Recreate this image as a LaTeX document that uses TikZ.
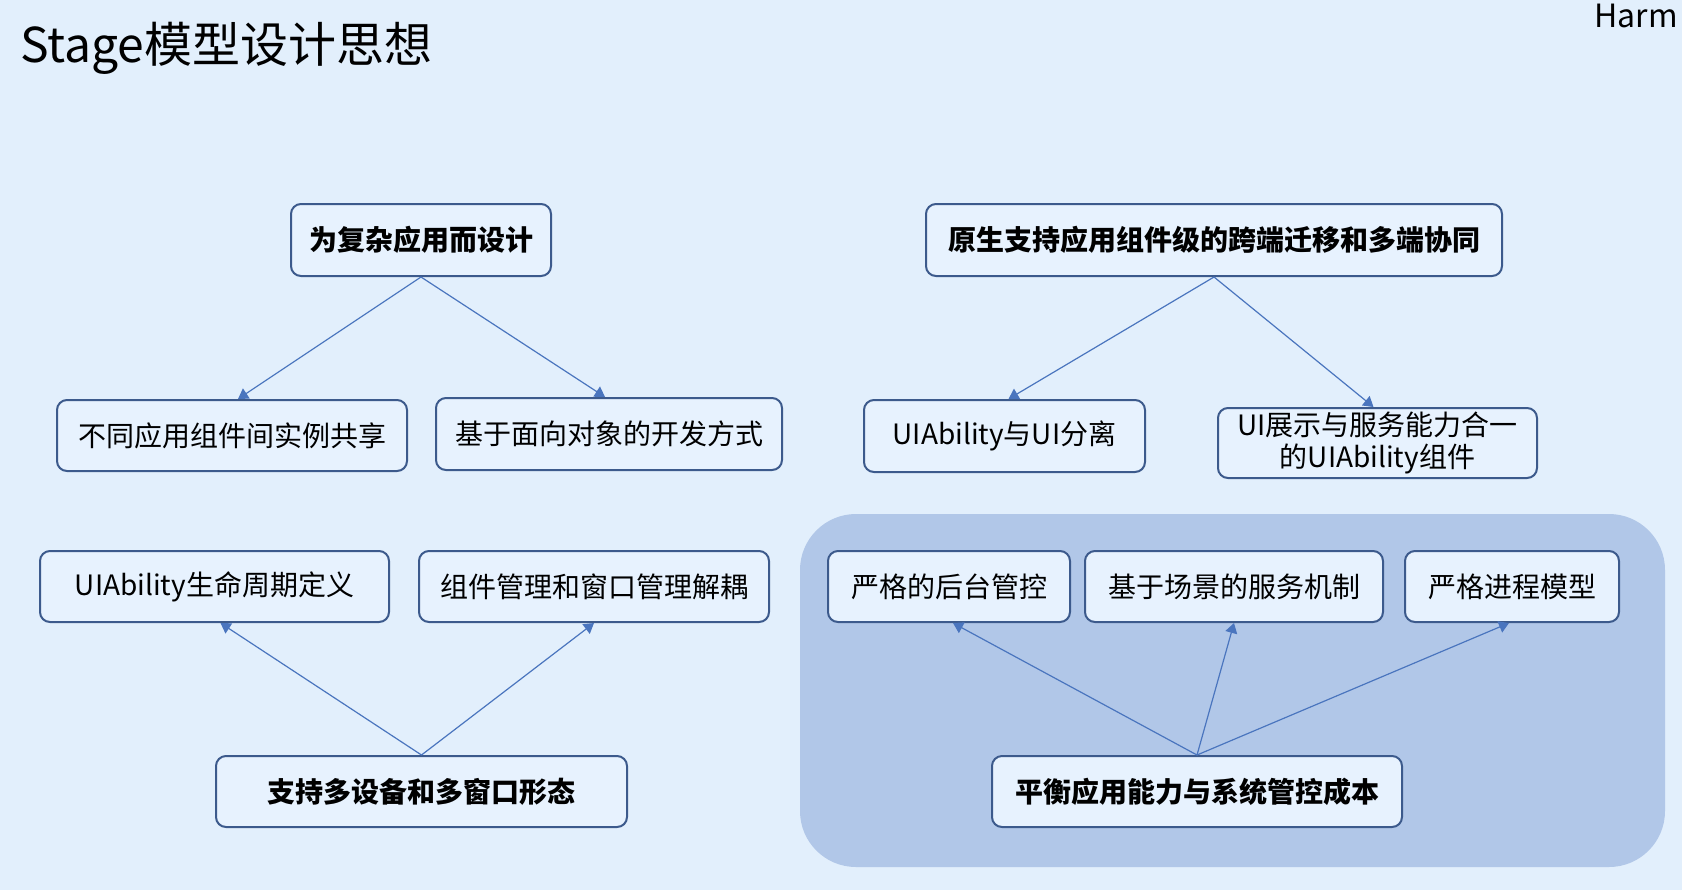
\documentclass[tikz,border=0pt]{standalone}
\usepackage{fontspec}
\setmainfont{Noto Sans CJK SC}
\usepackage{xcolor}
\definecolor{colorBack}{HTML}{E2EFFC}
\definecolor{colorBox}{HTML}{E7F2FE}
\definecolor{colorBorder}{HTML}{3C5A8C}
\definecolor{colorGroup}{HTML}{B1C7E8}
\definecolor{colorLink}{HTML}{4A75BE}
\usepackage{tikz}
\usetikzlibrary{arrows.meta, positioning}
\tikzset{
  box/.style={draw=colorBorder, fill=colorBox, line width=1pt, rounded corners=5pt, inner sep=0pt, align=center, font=\fontsize{14}{16}\selectfont},
  smallbox/.style={box, minimum height=35.5pt},
  keybox/.style={box, font=\fontsize{14}{16}\selectfont\bfseries},
  link/.style={-{Triangle[length=5pt,width=6pt]}, draw=colorLink, line width=0.6pt}
}

\begin{document}
\begin{tikzpicture}[x=0.5pt, y=-0.5pt]
\fill[colorBack] (0,0) rectangle (1682,890);
\useasboundingbox (0,0) rectangle (1682,890);
\fill[colorGroup, rounded corners=28pt] (800,514) rectangle (1665,867);
\node[anchor=base west, font=\fontsize{24}{24}\selectfont] (title) at (13,62) {Stage模型设计思想};
\node[anchor=base east, font=\fontsize{16}{16}\selectfont] (brand) at (1685,27) {Harm};
\node[keybox, minimum width=130pt, minimum height=36pt] (complex) at (421,240) {为复杂应用而设计};
\node[keybox, minimum width=288pt, minimum height=36pt] (migrate) at (1214,240) {原生支持应用组件级的跨端迁移和多端协同};
\node[box, minimum width=175pt, minimum height=35.5pt] (share) at (232,435.5) {不同应用组件间实例共享};
\node[box, minimum width=173pt, minimum height=36pt] (oop) at (609,434) {基于面向对象的开发方式};
\node[box, minimum width=140.5pt, minimum height=36pt] (split) at (1004.5,436) {UIAbility与UI分离};
\node[box, minimum width=159.5pt, minimum height=35pt] (merge) at (1377.5,443) {UI展示与服务能力合一\\的UIAbility组件};
\node[box, minimum width=174.5pt, minimum height=35.5pt] (life) at (214.5,586.5) {UIAbility生命周期定义};
\node[box, minimum width=175pt, minimum height=35.5pt] (decouple) at (594,586.5) {组件管理和窗口管理解耦};
\node[keybox, minimum width=205.5pt, minimum height=35.5pt] (devices) at (421.5,791.5) {支持多设备和多窗口形态};
\node[smallbox, minimum width=121pt] (backstage) at (949,586.5) {严格的后台管控};
\node[smallbox, minimum width=149pt] (scene) at (1234,586.5) {基于场景的服务机制};
\node[smallbox, minimum width=107pt] (process) at (1512,586.5) {严格进程模型};
\node[keybox, minimum width=205pt, minimum height=35.5pt] (balance) at (1197,791.5) {平衡应用能力与系统管控成本};
\draw[link] (complex.south) -- ([xshift=3pt]share.north);
\draw[link] (complex.south) -- ([xshift=-2pt]oop.north);
\draw[link] (migrate.south) -- ([xshift=2pt]split.north);
\draw[link] (migrate.south) -- ([xshift=-2pt]merge.north);
\draw[link] (devices.north) -- ([xshift=3pt]life.south);
\draw[link] (devices.north) -- (decouple.south);
\draw[link] (balance.north) -- ([xshift=2pt]backstage.south);
\draw[link] (balance.north) -- (scene.south);
\draw[link] (balance.north) -- ([xshift=-1.5pt]process.south);
\end{tikzpicture}
\end{document}
